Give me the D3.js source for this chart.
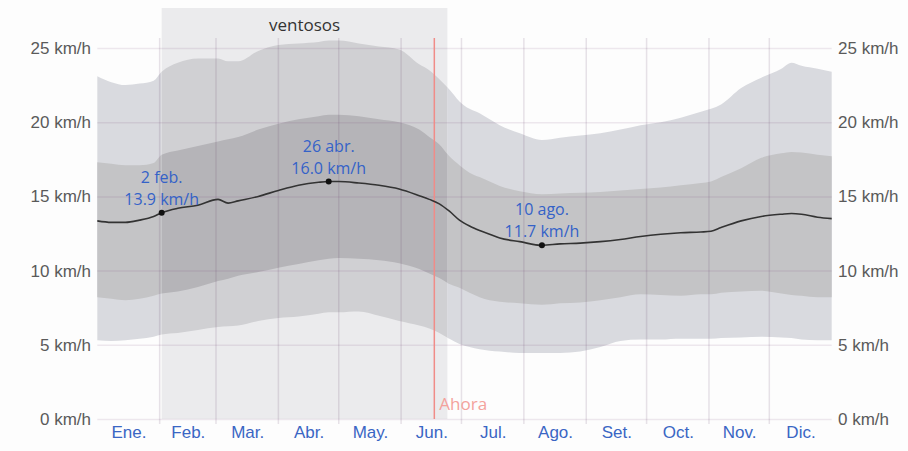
<!DOCTYPE html>
<html lang="es">
<head>
<meta charset="utf-8">
<script src="https://cdn.jsdelivr.net/npm/d3@7"></script>
<style>
  html, body { margin: 0; padding: 0; background: #fdfdfd; }
  svg { display: block; font-family: "Open Sans", "Noto Sans", sans-serif; }
</style>
</head>
<body>
<svg id="chart" width="908" height="451"></svg>
<script>
// Day of year (0 = 1 ene.) for each sample of the wind speed series
const days = [0, 7, 14, 21, 28, 32, 40, 50, 60, 65, 70, 80, 90, 100, 110, 115, 120, 130, 140, 150,
  160, 165, 170, 175, 180, 185, 190, 195, 200, 210, 221, 230, 240, 250, 260, 270, 280, 290,
  300, 305, 310, 320, 330, 340, 345, 350, 358, 365];

// Average wind speed, km/h
const windMean = [13.35, 13.25, 13.25, 13.4, 13.65, 13.9, 14.2, 14.4, 14.8, 14.55, 14.7, 15.0, 15.4, 15.75, 15.95, 16.0, 16.0, 15.9, 15.75, 15.5,
  15.05, 14.8, 14.5, 14.0, 13.4, 13.0, 12.7, 12.45, 12.2, 11.95, 11.7, 11.8, 11.85, 11.95, 12.1, 12.3, 12.45, 12.55,
  12.6, 12.65, 12.9, 13.35, 13.65, 13.8, 13.85, 13.8, 13.6, 13.5];

// 25th and 75th percentile bands
const windP25 = [8.2, 8.1, 8.0, 8.1, 8.3, 8.45, 8.6, 8.9, 9.3, 9.45, 9.65, 9.9, 10.2, 10.45, 10.7, 10.8, 10.85, 10.8, 10.7, 10.5,
  10.1, 9.8, 9.5, 9.1, 8.85, 8.5, 8.2, 8.0, 7.9, 7.8, 7.7, 7.8, 7.85, 8.0, 8.2, 8.4, 8.35, 8.3,
  8.4, 8.4, 8.5, 8.6, 8.65, 8.45, 8.35, 8.3, 8.2, 8.2];
const windP75 = [17.3, 17.2, 17.1, 17.1, 17.25, 17.8, 18.1, 18.4, 18.7, 18.85, 19.0, 19.5, 19.9, 20.2, 20.4, 20.5, 20.5, 20.4, 20.2, 20.0,
  19.5, 19.0, 18.5, 17.7, 17.1, 16.6, 16.3, 16.0, 15.7, 15.35, 15.15, 15.2, 15.25, 15.3, 15.4, 15.5, 15.6, 15.75,
  15.9, 16.0, 16.3, 16.9, 17.6, 17.9, 18.0, 17.95, 17.8, 17.7];

// 10th and 90th percentile bands
const windP10 = [5.3, 5.25, 5.3, 5.4, 5.55, 5.7, 5.8, 6.0, 6.2, 6.25, 6.3, 6.6, 6.8, 6.9, 7.1, 7.2, 7.2, 7.25, 6.95, 6.6,
  6.3, 6.1, 5.8, 5.4, 5.05, 4.85, 4.7, 4.6, 4.55, 4.45, 4.45, 4.45, 4.55, 4.85, 5.25, 5.35, 5.35, 5.4,
  5.4, 5.4, 5.45, 5.5, 5.55, 5.5, 5.45, 5.35, 5.3, 5.3];
const windP90 = [23.1, 22.7, 22.5, 22.6, 22.8, 23.4, 24.0, 24.3, 24.3, 24.1, 24.1, 24.8, 25.2, 25.3, 25.4, 25.5, 25.5, 25.3, 25.1, 24.9,
  23.9, 23.5, 22.9, 22.2, 21.4, 20.9, 20.6, 20.2, 19.8, 19.25, 18.8, 18.95, 19.1, 19.25, 19.5, 19.8, 20.0, 20.3,
  20.7, 20.9, 21.2, 22.3, 23.0, 23.6, 24.0, 23.8, 23.6, 23.4];

// Month axis
const monthLabels = ["Ene.", "Feb.", "Mar.", "Abr.", "May.", "Jun.", "Jul.", "Ago.", "Set.", "Oct.", "Nov.", "Dic."];
const monthStarts = [0, 31, 59, 90, 120, 151, 181, 212, 243, 273, 304, 334, 365];
const speedTicks = [0, 5, 10, 15, 20, 25];

// Windy season and current date
const windySeason = { label: "ventosos", start: 32, end: 174 };
const todayDay = 167.5;
const todayLabel = "Ahora";

// Highlighted points on the average line
const highlightLabels = ["2 feb.", "26 abr.", "10 ago."];
const highlightDays = [32, 115, 221];
const highlightValues = [13.9, 16.0, 11.7];

const svg = d3.select("#chart");
const x = d3.scaleLinear().domain([0, 365]).range([97.3, 831.7]);
const y = d3.scaleLinear().domain([0, 25]).range([419, 48]);

const rows = days.map((d, i) => ({
  d, mean: windMean[i], p10: windP10[i], p25: windP25[i], p75: windP75[i], p90: windP90[i]
}));
const curve = d3.curveMonotoneX;

const xs = x(windySeason.start), xe = x(windySeason.end);

// Clip regions: inside and outside the windy season
const defs = svg.append("defs");
defs.append("clipPath").attr("id", "season-in")
  .append("rect").attr("x", xs).attr("y", 0).attr("width", xe - xs).attr("height", 451);
const outClip = defs.append("clipPath").attr("id", "season-out");
outClip.append("rect").attr("x", 0).attr("y", 0).attr("width", xs).attr("height", 451);
outClip.append("rect").attr("x", xe).attr("y", 0).attr("width", 908 - xe).attr("height", 451);

// Windy season shading
svg.append("rect")
  .attr("x", xs).attr("y", 8)
  .attr("width", xe - xs)
  .attr("height", y(0) - 8)
  .attr("fill", "#ebebed");

svg.append("text")
  .attr("x", (xs + xe) / 2)
  .attr("y", 31)
  .attr("text-anchor", "middle")
  .attr("font-size", 17)
  .attr("fill", "#333")
  .text(windySeason.label);

// Percentile bands, slightly darker inside the windy season
const outerArea = d3.area().curve(curve).x(r => x(r.d)).y0(r => y(r.p10)).y1(r => y(r.p90));
const innerArea = d3.area().curve(curve).x(r => x(r.d)).y0(r => y(r.p25)).y1(r => y(r.p75));
[
  { clip: "season-out", outer: "#d9dadf", inner: "#c4c4c6" },
  { clip: "season-in", outer: "#d0d0d3", inner: "#b5b4b8" }
].forEach(s => {
  const g = svg.append("g").attr("clip-path", `url(#${s.clip})`);
  g.append("path").datum(rows).attr("fill", s.outer).attr("d", outerArea);
  g.append("path").datum(rows).attr("fill", s.inner).attr("d", innerArea);
});

// Horizontal grid lines
svg.append("g")
  .attr("transform", `translate(${x(0)},0)`)
  .call(d3.axisLeft(y).tickValues(speedTicks).tickSize(-(x(365) - x(0))).tickFormat(""))
  .call(g => g.select(".domain").remove())
  .call(g => g.selectAll(".tick line").attr("stroke", "rgba(120,70,120,0.12)").attr("stroke-width", 1.5));

// Vertical month grid lines
svg.append("g")
  .selectAll("line")
  .data(monthStarts.slice(1, -1))
  .join("line")
  .attr("x1", d => x(d)).attr("x2", d => x(d))
  .attr("y1", 38).attr("y2", 424)
  .attr("stroke", "rgba(100,70,110,0.15)")
  .attr("stroke-width", 1.5);

// Speed labels on both sides
const fmt = d => `${d} km/h`;
svg.append("g")
  .attr("transform", "translate(91,0)")
  .call(d3.axisLeft(y).tickValues(speedTicks).tickSize(0).tickPadding(0).tickFormat(fmt))
  .call(g => g.select(".domain").remove())
  .call(g => g.selectAll("text").attr("font-size", 17).attr("fill", "#5a5a5a").attr("font-family", null));
svg.append("g")
  .attr("transform", "translate(838,0)")
  .call(d3.axisRight(y).tickValues(speedTicks).tickSize(0).tickPadding(0).tickFormat(fmt))
  .call(g => g.select(".domain").remove())
  .call(g => g.selectAll("text").attr("font-size", 17).attr("fill", "#5a5a5a").attr("font-family", null));

// Month labels centred in each month
const monthMids = monthStarts.slice(0, -1).map((s, i) => (s + monthStarts[i + 1]) / 2);
svg.append("g")
  .attr("transform", `translate(0,${y(0)})`)
  .call(d3.axisBottom(x).tickValues(monthMids).tickSize(0).tickPadding(7)
    .tickFormat((d, i) => monthLabels[i]))
  .call(g => g.select(".domain").remove())
  .call(g => g.selectAll("text").attr("font-size", 17).attr("fill", "#3a66c4").attr("font-family", null));

// Current date marker
svg.append("line")
  .attr("x1", x(todayDay)).attr("x2", x(todayDay))
  .attr("y1", 38).attr("y2", y(0))
  .attr("stroke", "#f08c88")
  .attr("stroke-width", 1.5);
svg.append("text")
  .attr("x", x(todayDay) + 5)
  .attr("y", 410)
  .attr("font-size", 17)
  .attr("fill", "#f4a29c")
  .text(todayLabel);

// Average wind speed line
svg.append("path")
  .datum(rows)
  .attr("fill", "none")
  .attr("stroke", "#333")
  .attr("stroke-width", 1.6)
  .attr("d", d3.line().curve(curve).x(r => x(r.d)).y(r => y(r.mean)));

// Highlighted points and their two-line labels
const hl = svg.append("g").selectAll("g")
  .data(highlightDays.map((d, i) => ({ d, v: highlightValues[i], label: highlightLabels[i] })))
  .join("g")
  .attr("transform", p => `translate(${x(p.d)},${y(p.v)})`);
hl.append("circle").attr("r", 3).attr("fill", "#111");
const lbl = hl.append("text")
  .attr("text-anchor", "middle")
  .attr("font-size", 16)
  .attr("fill", "#3462c8");
lbl.append("tspan").attr("x", 0).attr("y", -30).text(p => p.label);
lbl.append("tspan").attr("x", 0).attr("y", -8).text(p => `${p.v.toFixed(1)} km/h`);
</script>
</body>
</html>
